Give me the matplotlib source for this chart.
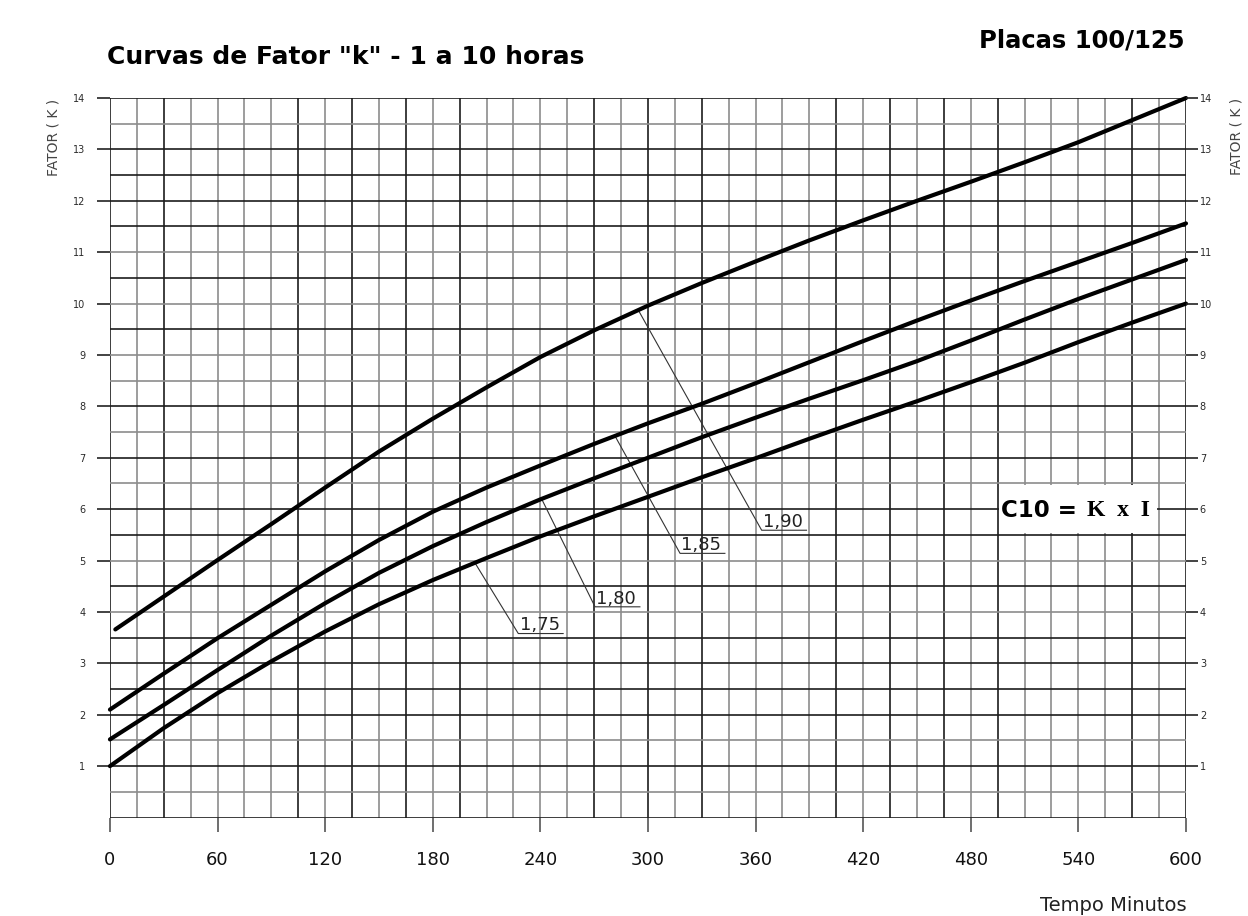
import matplotlib
matplotlib.use("Agg")
import matplotlib.pyplot as plt
import numpy as np
from matplotlib.patches import Rectangle

# curves (minutes, factor K)
t_190 = [3, 30, 60, 90, 120, 150, 180, 210, 240, 270, 300, 330, 360, 390, 420, 450, 480, 510, 540, 570, 600]
k_190 = [3.66, 4.30, 5.01, 5.71, 6.42, 7.12, 7.76, 8.37, 8.96, 9.48, 9.96, 10.40, 10.82, 11.23, 11.62, 12.00, 12.37, 12.75, 13.14, 13.57, 14.00]

t_std = [0, 30, 60, 90, 120, 150, 180, 210, 240, 270, 300, 330, 360, 390, 420, 450, 480, 510, 540, 570, 600]
k_185 = [2.10, 2.80, 3.49, 4.14, 4.79, 5.40, 5.95, 6.42, 6.85, 7.27, 7.67, 8.05, 8.45, 8.86, 9.27, 9.67, 10.06, 10.44, 10.81, 11.18, 11.56]
k_180 = [1.52, 2.19, 2.87, 3.54, 4.17, 4.76, 5.28, 5.75, 6.19, 6.60, 7.00, 7.40, 7.78, 8.15, 8.51, 8.88, 9.28, 9.69, 10.09, 10.47, 10.85]
k_175 = [1.00, 1.74, 2.42, 3.04, 3.62, 4.15, 4.62, 5.05, 5.47, 5.86, 6.24, 6.62, 6.99, 7.37, 7.74, 8.10, 8.47, 8.85, 9.25, 9.63, 10.00]

curve_labels = ["1,75", "1,80", "1,85", "1,90"]
leader_from_t = [203.5, 240.7, 281.6, 294.6]
label_t = [227.7, 270.5, 317.9, 363.4]
label_k = [3.58, 4.10, 5.14, 5.59]

x_ticks = list(range(0, 601, 60))
y_ticks = list(range(1, 15))

# scan look: some grid lines print darker than others
dark_v = [0, 30, 105, 135, 165, 195, 270, 300, 330, 405, 435, 465, 495, 570, 600]
dark_h = [0, 1, 2, 2.5, 3, 3.5, 4.5, 5.5, 6, 7, 8, 9.5, 10.5, 11.5, 12, 12.5, 13, 14]
DARK = "#1c1c1c"
GRAY = "#8c8c8c"

fig = plt.figure(figsize=(12.48, 9.16), dpi=100)
ax = fig.add_axes([0.0881, 0.1075, 0.8622, 0.7855])
ax.set_xlim(0, 600)
ax.set_ylim(0, 14)
for s in ax.spines.values():
    s.set_visible(False)

for t in np.arange(0, 601, 15):
    ax.axvline(t, color=DARK if t in dark_v else GRAY, lw=1.2, zorder=1)
for k in np.arange(0, 14.01, 0.5):
    ax.axhline(k, color=DARK if k in dark_h else GRAY, lw=1.2, zorder=1)

ax.set_xticks(x_ticks)
ax.set_xticklabels([str(v) for v in x_ticks])
ax.tick_params(axis="x", direction="out", length=10.4, width=1.2, color="#555555",
               pad=14, labelsize=13, labelcolor="#111111")
ax.set_yticks(y_ticks)
ax.set_yticklabels([str(v) for v in y_ticks])
ax.tick_params(axis="y", direction="out", length=9.2, width=1.2, color="#222222",
               pad=8.6, labelsize=7, labelcolor="#2a2a2a")

ax2 = ax.twinx()
ax2.set_ylim(0, 14)
for s in ax2.spines.values():
    s.set_visible(False)
ax2.set_yticks(y_ticks)
ax2.set_yticklabels([str(v) for v in y_ticks])
ax2.tick_params(axis="y", direction="out", length=8.6, width=1.2, color="#222222",
                pad=1.4, labelsize=7, labelcolor="#2a2a2a")

curves = [(t_std, k_175), (t_std, k_180), (t_std, k_185), (t_190, k_190)]
for tt, kk in curves:
    ax.plot(tt, kk, color="black", lw=3.0, solid_capstyle="round", solid_joinstyle="round",
            clip_on=False, zorder=4)

for (tt, kk), lab, t0, t1, k1 in zip(curves, curve_labels, leader_from_t, label_t, label_k):
    k0 = np.interp(t0, tt, kk)
    ax.plot([t0, t1, t1 + 25], [k0, k1, k1], color="#333333", lw=0.8, zorder=3)
    ax.text(t1 + 0.8, k1 + 0.06, lab, fontsize=13, color="#222222", va="baseline", ha="left", zorder=5)

# C10 = K x I box
ax.add_patch(Rectangle((495.6, 5.53), 88.4, 0.94, facecolor="white", edgecolor="none", zorder=2))
ax.text(497, 5.98, "C10 =", fontsize=16.5, fontweight="bold", va="center", ha="left", zorder=5)
ax.text(545, 5.98, "K  x  I", fontsize=17, fontweight="bold", family="Liberation Serif",
        va="center", ha="left", zorder=5)

fig.text(0.0425, 0.8504, "FATOR ( K )", rotation=90, fontsize=10, color="#444444", ha="center", va="center")
fig.text(0.991, 0.8515, "FATOR ( K )", rotation=90, fontsize=10, color="#444444", ha="center", va="center")

fig.text(0.0857, 0.930, 'Curvas de Fator "k" - 1 a 10 horas', fontsize=18, fontweight="bold",
         ha="left", va="baseline")
fig.text(0.9495, 0.9476, "Placas 100/125", fontsize=17.5, fontweight="bold", ha="right", va="baseline")
fig.text(0.951, 0.0055, "Tempo Minutos", fontsize=14, color="#222222", ha="right", va="baseline")

fig.savefig("out.png", dpi=100, facecolor="white")
